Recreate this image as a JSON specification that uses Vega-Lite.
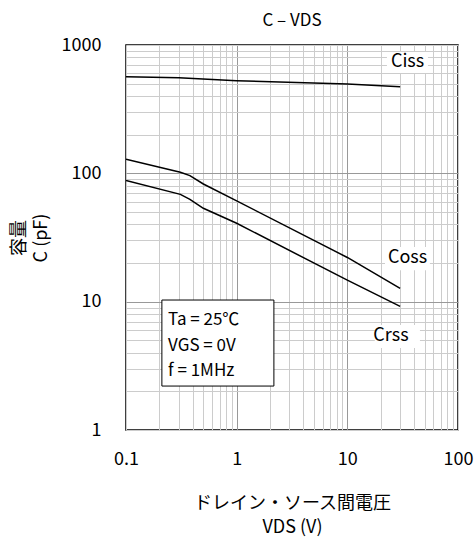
{
  "$schema": "https://vega.github.io/schema/vega-lite/v6.json",
  "autosize": {"type": "none"},
  "width": 332,
  "height": 385,
  "padding": {"left": 126, "top": 45, "right": 17, "bottom": 109},
  "background": "white",
  "title": {"text": "C – VDS", "fontSize": 17, "font": "Noto Sans CJK JP", "fontWeight": "normal", "color": "black", "offset": 6},
  "config": {
    "font": "Noto Sans CJK JP",
    "view": {"stroke": "black", "strokeWidth": 1.5},
    "axis": {"domain": false, "ticks": false, "labelFontSize": 18, "labelColor": "black", "titleFontSize": 18, "titleFontWeight": "normal", "titleColor": "black", "labelFont": "Noto Sans CJK JP", "titleFont": "Noto Sans CJK JP"}
  },
  "datasets": {
    "curves": [
      {"series": "Ciss", "vds": 0.1, "c": 566},
      {"series": "Ciss", "vds": 0.3, "c": 556},
      {"series": "Ciss", "vds": 1, "c": 527},
      {"series": "Ciss", "vds": 10, "c": 497},
      {"series": "Ciss", "vds": 30, "c": 473},
      {"series": "Coss", "vds": 0.1, "c": 129},
      {"series": "Coss", "vds": 0.31, "c": 102},
      {"series": "Coss", "vds": 0.378, "c": 96},
      {"series": "Coss", "vds": 0.5, "c": 82.6},
      {"series": "Coss", "vds": 1, "c": 61},
      {"series": "Coss", "vds": 10, "c": 22.1},
      {"series": "Coss", "vds": 30, "c": 12.7},
      {"series": "Crss", "vds": 0.1, "c": 88},
      {"series": "Crss", "vds": 0.31, "c": 68.6},
      {"series": "Crss", "vds": 0.378, "c": 62.7},
      {"series": "Crss", "vds": 0.5, "c": 53.4},
      {"series": "Crss", "vds": 1, "c": 40.8},
      {"series": "Crss", "vds": 10, "c": 14.7},
      {"series": "Crss", "vds": 30, "c": 9.2}
    ],
    "labels": [
      {"label": "Ciss", "x": 35, "y": 737, "x1": 22.8, "x2": 53.5, "y1": 881, "y2": 605},
      {"label": "Coss", "x": 35, "y": 21.9, "x1": 21.9, "x2": 55.7, "y1": 26.7, "y2": 17.6},
      {"label": "Crss", "x": 24.8, "y": 5.4, "x1": 17.7, "x2": 45.3, "y1": 6.57, "y2": 4.35}
    ],
    "box": [{"x1": 0.211, "x2": 2.17, "y1": 10.3, "y2": 2.2}],
    "boxtext": [
      {"t": "Ta = 25℃", "x": 0.24, "y": 7.19},
      {"t": "VGS = 0V", "x": 0.24, "y": 4.51},
      {"t": "f = 1MHz", "x": 0.24, "y": 2.88}
    ]
  },
  "layer": [
    {
      "data": {"name": "curves"},
      "mark": {"type": "line", "color": "black", "strokeWidth": 1.5, "clip": true},
      "encoding": {
        "x": {"field": "vds", "type": "quantitative",
          "scale": {"type": "log", "domain": [0.1, 100], "nice": false},
          "axis": {
            "values": [0.1,0.2,0.3,0.4,0.5,0.6,0.7,0.8,0.9,1,2,3,4,5,6,7,8,9,10,20,30,40,50,60,70,80,90,100],
            "labelExpr": "abs(log(datum.value)/LN10 - round(log(datum.value)/LN10)) < 0.001 ? (datum.value < 1 ? '0.1' : format(datum.value, 'd')) : ''",
            "grid": true,
            "gridColor": {"condition": {"test": "datum.value == 1 || datum.value == 10", "value": "#999999"}, "value": "#cccccc"},
            "gridWidth": 1,
            "labelPadding": 20,
            "labelFlush": false,
            "labelOverlap": false,
            "title": ["ドレイン・ソース間電圧", "VDS (V)"],
            "titlePadding": 26,
            "titleLineHeight": 24
          }
        },
        "y": {"field": "c", "type": "quantitative",
          "scale": {"type": "log", "domain": [1, 1000], "nice": false},
          "axis": {
            "values": [1,2,3,4,5,6,7,8,9,10,20,30,40,50,60,70,80,90,100,200,300,400,500,600,700,800,900,1000],
            "labelExpr": "abs(log(datum.value)/LN10 - round(log(datum.value)/LN10)) < 0.001 ? format(datum.value, 'd') : ''",
            "grid": true,
            "gridColor": {"condition": {"test": "datum.value == 10 || datum.value == 100", "value": "#999999"}, "value": "#cccccc"},
            "gridWidth": 1,
            "labelPadding": 25,
            "labelFlush": false,
            "labelOverlap": false,
            "title": ["容量", "C (pF)"],
            "titlePadding": 11,
            "titleLineHeight": 22
          }
        },
        "detail": {"field": "series"}
      }
    },
    {
      "data": {"name": "labels"},
      "mark": {"type": "rect", "fill": "white"},
      "encoding": {
        "x": {"field": "x1", "type": "quantitative"},
        "x2": {"field": "x2"},
        "y": {"field": "y1", "type": "quantitative"},
        "y2": {"field": "y2"}
      }
    },
    {
      "data": {"name": "labels"},
      "mark": {"type": "text", "fontSize": 18, "color": "black", "align": "center", "baseline": "middle"},
      "encoding": {
        "x": {"field": "x", "type": "quantitative"},
        "y": {"field": "y", "type": "quantitative"},
        "text": {"field": "label"}
      }
    },
    {
      "data": {"name": "box"},
      "mark": {"type": "rect", "fill": "white", "stroke": "black", "strokeWidth": 1},
      "encoding": {
        "x": {"field": "x1", "type": "quantitative"},
        "x2": {"field": "x2"},
        "y": {"field": "y1", "type": "quantitative"},
        "y2": {"field": "y2"}
      }
    },
    {
      "data": {"name": "boxtext"},
      "mark": {"type": "text", "fontSize": 17, "color": "black", "align": "left", "baseline": "middle"},
      "encoding": {
        "x": {"field": "x", "type": "quantitative"},
        "y": {"field": "y", "type": "quantitative"},
        "text": {"field": "t"}
      }
    }
  ]
}
